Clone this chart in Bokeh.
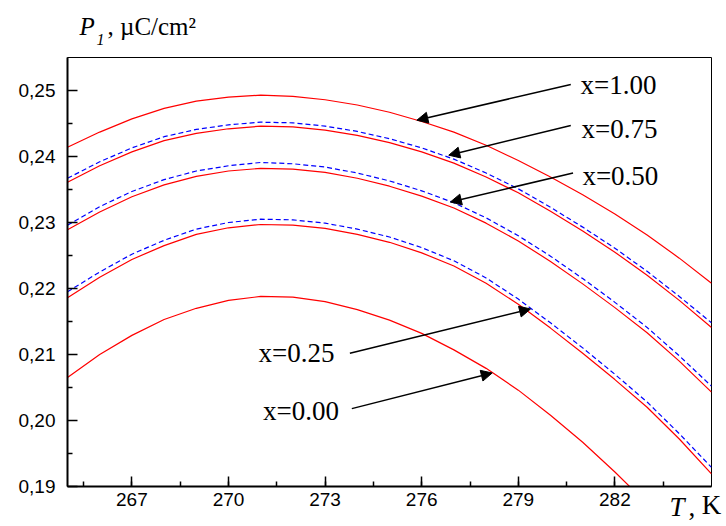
from bokeh.plotting import figure
from bokeh.models import (Range1d, FixedTicker, CustomJSTickFormatter, Label,
                          Arrow, NormalHead)
from bokeh.embed import file_html
from bokeh.resources import INLINE

# Temperature grid, K
T = [265, 266, 267, 268, 269, 270, 271, 272, 273, 274, 275,
     276, 277, 278, 279, 280, 281, 282, 283, 284, 285]
T_x000 = T[:19]

# Polarization P1 (uC/cm^2), solid red curves
p_x100 = [0.2414, 0.2437, 0.2457, 0.2473, 0.2484, 0.2490, 0.2493, 0.2491, 0.2486, 0.2478, 0.2467,
          0.2453, 0.2437, 0.2417, 0.2394, 0.2369, 0.2342, 0.2313, 0.2281, 0.2246, 0.2208]
p_x075 = [0.2361, 0.2386, 0.2407, 0.2424, 0.2435, 0.2442, 0.2446, 0.2445, 0.2440, 0.2432, 0.2421,
          0.2407, 0.2390, 0.2369, 0.2345, 0.2317, 0.2287, 0.2255, 0.2220, 0.2182, 0.2141]
p_x050 = [0.2289, 0.2316, 0.2339, 0.2357, 0.2370, 0.2378, 0.2382, 0.2381, 0.2376, 0.2367, 0.2355,
          0.2340, 0.2322, 0.2299, 0.2272, 0.2241, 0.2207, 0.2171, 0.2133, 0.2090, 0.2043]
p_x025 = [0.2186, 0.2217, 0.2244, 0.2265, 0.2282, 0.2292, 0.2297, 0.2296, 0.2291, 0.2282, 0.2270,
          0.2254, 0.2234, 0.2208, 0.2176, 0.2140, 0.2102, 0.2062, 0.2020, 0.1972, 0.1919]
p_x000 = [0.2065, 0.2100, 0.2129, 0.2153, 0.2170, 0.2182, 0.2188, 0.2187, 0.2180, 0.2168, 0.2152,
          0.2132, 0.2107, 0.2079, 0.2046, 0.2008, 0.1967, 0.1922, 0.1874]

# Dashed blue companions
b_x075 = [0.2367, 0.2392, 0.2413, 0.2430, 0.2441, 0.2448, 0.2452, 0.2451, 0.2446, 0.2438, 0.2427,
          0.2413, 0.2396, 0.2375, 0.2351, 0.2323, 0.2293, 0.2261, 0.2226, 0.2188, 0.2148]
b_x050 = [0.2296, 0.2324, 0.2347, 0.2365, 0.2378, 0.2386, 0.2391, 0.2389, 0.2384, 0.2375, 0.2363,
          0.2348, 0.2330, 0.2307, 0.2280, 0.2249, 0.2215, 0.2179, 0.2141, 0.2098, 0.2052]
b_x025 = [0.2195, 0.2225, 0.2252, 0.2273, 0.2290, 0.2300, 0.2305, 0.2304, 0.2299, 0.2290, 0.2278,
          0.2262, 0.2242, 0.2216, 0.2184, 0.2148, 0.2110, 0.2070, 0.2028, 0.1980, 0.1929]

x_ticks = [267, 270, 273, 276, 279, 282]
x_minor = [265.5, 267, 268.5, 270, 271.5, 273, 274.5, 276, 277.5, 279, 280.5, 282, 283.5]
y_ticks = [0.19, 0.20, 0.21, 0.22, 0.23, 0.24, 0.25]
y_minor = [0.195, 0.205, 0.215, 0.225, 0.235, 0.245]

# Curve annotations: label text, label anchor, arrow start, arrow tip (data coords)
ann_text = ["x=1.00", "x=0.75", "x=0.50", "x=0.25", "x=0.00"]
ann_label = [(280.93, 0.2508), (280.96, 0.2442), (280.99, 0.2371), (270.93, 0.2102), (271.07, 0.2015)]
ann_start = [(280.63, 0.2509), (280.63, 0.2447), (280.70, 0.2375), (273.77, 0.2102), (273.83, 0.2018)]
ann_tip = [(275.85, 0.2455), (276.84, 0.2402), (276.89, 0.2331), (279.38, 0.2169), (278.19, 0.2072)]

SERIF = "Liberation Serif"
SANS = "Liberation Sans"

p = figure(width=726, height=526,
           x_range=Range1d(265, 285), y_range=Range1d(0.19, 0.255),
           min_border_left=67, min_border_right=15, min_border_top=57, min_border_bottom=40,
           output_backend="svg", toolbar_location=None)
p.title.visible = False
p.grid.visible = False
p.outline_line_color = "black"
p.outline_line_width = 1
p.background_fill_color = "white"
p.border_fill_color = "white"

for ax in (p.xaxis[0], p.yaxis[0]):
    ax.axis_line_width = 2
    ax.axis_line_color = "black"
    ax.major_tick_in = 10
    ax.major_tick_out = 0
    ax.minor_tick_in = 5
    ax.minor_tick_out = 0
    ax.major_tick_line_width = 1.5
    ax.minor_tick_line_width = 1.5
    ax.major_label_text_font = SANS
    ax.major_label_text_font_size = "19px"
    ax.major_label_text_color = "black"

p.xaxis.ticker = FixedTicker(ticks=x_ticks, minor_ticks=x_minor)
p.xaxis.major_label_standoff = 6
p.yaxis.ticker = FixedTicker(ticks=y_ticks, minor_ticks=y_minor)
p.yaxis.major_label_standoff = 12
p.yaxis.formatter = CustomJSTickFormatter(code="return tick.toFixed(2).replace('.', ',');")

# Unit of the temperature title sits at the right end, level with tick labels
p.xaxis.axis_label = "K"
p.xaxis.axis_label_align = "end"
p.xaxis.axis_label_standoff = -19
p.xaxis.axis_label_text_font = SERIF
p.xaxis.axis_label_text_font_size = "27px"
p.xaxis.axis_label_text_font_style = "normal"
p.xaxis.axis_label_text_color = "black"

# Curves
for ys in (b_x075, b_x050, b_x025):
    p.line(T, ys, line_color="#0000ff", line_width=1.2, line_dash="5 3")
for ys in (p_x100, p_x075, p_x050, p_x025):
    p.line(T, ys, line_color="#ff0000", line_width=1.2)
p.line(T_x000, p_x000, line_color="#ff0000", line_width=1.2)

# Arrows with labels
for txt, (lx, ly), (sx, sy), (ex, ey) in zip(ann_text, ann_label, ann_start, ann_tip):
    p.add_layout(Arrow(x_start=sx, y_start=sy, x_end=ex, y_end=ey, line_width=1.5,
                       line_color="black",
                       end=NormalHead(size=11, fill_color="black", line_color="black")))
    p.add_layout(Label(x=lx, y=ly, text=txt, text_font=SERIF, text_font_size="27px",
                       text_align="left", text_baseline="middle", text_color="black"))


def px(x, y):
    """Convert canvas pixel position to data coordinates of this frame."""
    return 265 + (x - 67) / 32.2, 0.19 + (486 - y) / 6600.0


def title_part(x, y, text, size, style, side):
    # Title fragments live in the border panels so the frame does not clip them
    dx, dy = px(x, y)
    p.add_layout(Label(x=dx, y=dy, text=text, text_font=SERIF, text_font_size=size,
                       text_font_style=style, text_align="left",
                       text_baseline="alphabetic", text_color="black"), side)


title_part(79, 26, "P", "25px", "italic", "above")
title_part(107, 26, ", \u00b5C/cm\u00b2", "25px", "normal", "above")
title_part(96, 39, "1", "16px", "italic", "right")
title_part(669, 506, "T", "27px", "italic", "left")
title_part(688, 506, ",", "27px", "normal", "right")

open("out.html", "w").write(file_html(p, INLINE))
